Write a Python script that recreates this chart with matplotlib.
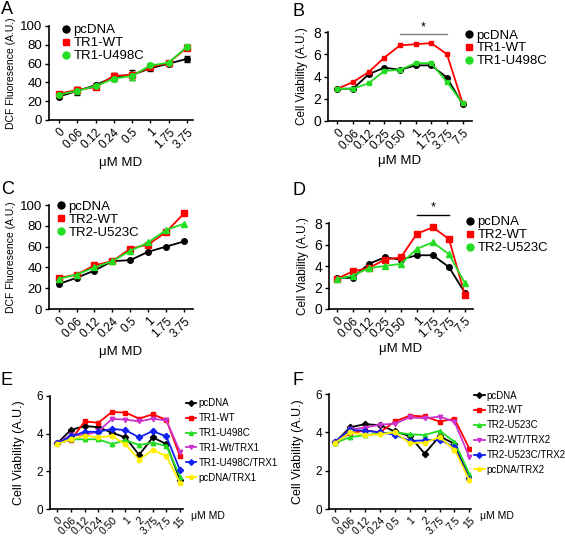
import matplotlib
matplotlib.use("Agg")
import matplotlib.pyplot as plt

plt.rcParams['font.family'] = ['Liberation Sans', 'DejaVu Sans']

# ---- datos ----
dosis_ac = ['0', '0.06', '0.12', '0.24', '0.5', '1', '1.75', '3.75']
dosis_bd = ['0', '0.06', '0.12', '0.25', '0.50', '1', '1.75', '3.75', '7.5']
dosis_e = ['0', '0.06', '0.12', '0.24', '0.50', '1', '2', '3.75', '7.5', '15']
dosis_f = ['0', '0.06', '0.12', '0.24', '0.5', '1', '2', '3.75', '7.5', '15']

a_pcdna = [25, 31, 37, 46, 48, 55, 60, 65]
a_wt = [28, 32, 35, 47, 48, 56, 61, 77]
a_mut = [27, 31, 36, 44, 47, 58, 61, 78]
a_err_pcdna = [2, 4, 2, 4, 5, 3, 3, 3]
a_err_wt = [2, 3, 2, 3, 3, 2, 2, 3]
a_err_mut = [2, 3, 2, 3, 4, 3, 2, 3]

b_pcdna = [2.9, 2.9, 4.2, 4.8, 4.6, 5.0, 5.0, 3.9, 1.5]
b_wt = [2.9, 3.5, 4.4, 5.7, 6.8, 6.9, 7.0, 6.0, 1.6]
b_mut = [2.9, 2.9, 3.4, 4.5, 4.6, 5.2, 5.2, 3.5, 1.6]

c_pcdna = [24, 30, 37, 46, 47, 55, 60, 65]
c_wt = [30, 33, 42, 46, 58, 62, 74, 92]
c_mut = [29, 33, 40, 46, 56, 64, 76, 82]

d_pcdna = [2.9, 2.9, 4.2, 4.8, 4.6, 5.0, 5.0, 3.9, 1.5]
d_wt = [2.8, 3.5, 3.8, 4.6, 4.8, 7.0, 7.6, 6.5, 1.3]
d_mut = [2.8, 3.1, 3.8, 4.0, 4.2, 5.6, 6.2, 5.1, 2.4]

e_series = {
    'pcDNA': [3.5, 4.2, 4.4, 4.35, 4.05, 3.8, 2.87, 3.8, 3.45, 1.55],
    'TR1-WT': [3.5, 3.66, 4.65, 4.58, 5.15, 5.12, 4.8, 5.03, 4.73, 2.8],
    'TR1-U498C': [3.5, 3.7, 3.7, 3.7, 3.45, 3.65, 3.4, 3.52, 3.35, 1.72],
    'TR1-Wt/TRX1': [3.5, 3.93, 3.93, 4.12, 4.78, 4.75, 4.65, 4.8, 4.7, 3.05],
    'TR1-U498C/TRX1': [3.5, 3.85, 4.1, 4.1, 4.25, 4.19, 3.8, 4.14, 3.85, 2.07],
    'pcDNA/TRX1': [3.45, 3.7, 3.9, 3.8, 3.88, 3.43, 2.62, 3.13, 2.81, 1.38],
}
f_series = {
    'pcDNA': [3.5, 4.26, 4.43, 4.37, 4.05, 3.8, 2.89, 3.8, 3.4, 1.6],
    'TR2-WT': [3.5, 3.95, 4.1, 4.0, 4.57, 4.87, 4.83, 4.56, 4.71, 3.15],
    'TR2-U523C': [3.45, 3.75, 3.85, 3.95, 4.0, 3.9, 3.86, 4.08, 3.51, 1.83],
    'TR2-WT/TRX2': [3.5, 4.15, 4.25, 4.4, 4.45, 4.78, 4.73, 4.82, 4.55, 2.71],
    'TR2-U523C/TRX2': [3.5, 4.12, 4.09, 4.0, 3.88, 3.55, 3.58, 3.62, 3.23, 1.55],
    'pcDNA/TRX2': [3.45, 4.0, 3.85, 3.9, 4.0, 3.44, 3.45, 3.75, 3.1, 1.5],
}

colores = ['black', 'red', '#22dd22', '#cc33cc', '#1122ee', '#ffee00']
marcadores = ['D', 's', '^', 'v', 'D', 'o']

W, H = 565, 537
fig = plt.figure(figsize=(W / 100, H / 100), dpi=100)


def ejes(izq, der, arriba, abajo):
    return fig.add_axes([izq / W, 1 - abajo / H, (der - izq) / W, (abajo - arriba) / H])


def estilo(ax, etiquetas, xlim, ylim, yticks, fx=8.5, fy=9.5):
    ax.spines['top'].set_visible(False)
    ax.spines['right'].set_visible(False)
    ax.set_xlim(*xlim)
    ax.set_ylim(*ylim)
    ax.set_yticks(yticks)
    ax.set_xticks(range(len(etiquetas)))
    ax.set_xticklabels(etiquetas, rotation=45, ha='right', rotation_mode='anchor', fontsize=fx)
    ax.tick_params(axis='y', labelsize=fy, length=3, width=1, pad=2)
    ax.tick_params(axis='x', length=2.5, width=1, pad=2)
    for s in ('left', 'bottom'):
        ax.spines[s].set_linewidth(1.2)


def leyenda_puntos(ax, etiquetas, marcas, x0, y0):
    handles = [plt.Line2D([], [], ls='', marker=mk, color=c, ms=5) for c, mk in zip(colores[:3], marcas)]
    ax.legend(handles, etiquetas, loc='upper left', bbox_to_anchor=(x0, y0), frameon=False,
              fontsize=9.5, handletextpad=0.1, handlelength=1, labelspacing=0.05, borderaxespad=0,
              borderpad=0)


# ---- A ----
axA = ejes(49, 193, 26, 120)
x = range(len(dosis_ac))
for y, e, c, m in [(a_pcdna, a_err_pcdna, colores[0], 'o'),
                   (a_wt, a_err_wt, colores[1], 's'),
                   (a_mut, a_err_mut, colores[2], 'o')]:
    axA.errorbar(x, y, yerr=e, color=c, marker=m, ms=4, lw=1.3, capsize=2, elinewidth=1.2)
estilo(axA, dosis_ac, (-0.55, 7.33), (0, 100), [0, 20, 40, 60, 80, 100])
axA.set_ylabel('DCF Fluoresence (A.U.)', fontsize=7.5, labelpad=3)
axA.set_xlabel('μM MD', fontsize=9.5, labelpad=4)
leyenda_puntos(axA, ['pcDNA', 'TR1-WT', 'TR1-U498C'], ['o', 's', 'o'], 0.07, 1.02)

# ---- B ----
axB = ejes(328, 472, 32, 121)
x = range(len(dosis_bd))
axB.plot(x, b_pcdna, color=colores[0], marker='o', ms=4, lw=1.3)
axB.plot(x, b_wt, color=colores[1], marker='s', ms=3.5, lw=1.3)
axB.plot(x, b_mut, color=colores[2], marker='s', ms=3.5, lw=1.3)
estilo(axB, dosis_bd, (-0.6, 8.6), (0, 8), [0, 2, 4, 6, 8], fy=10)
axB.set_ylabel('Cell Viability (A.U.)', fontsize=8.5, labelpad=4)
axB.set_xlabel('μM MD', fontsize=9.5, labelpad=2)
axB.plot([4, 7], [7.8, 7.8], color='gray', lw=1, clip_on=False)
axB.text(5.5, 7.9, '*', ha='center', va='bottom', fontsize=9, clip_on=False)
leyenda_puntos(axB, ['pcDNA', 'TR1-WT', 'TR1-U498C'], ['o', 's', 'o'], 0.93, 1.03)

# ---- C ----
axC = ejes(49, 193, 205, 309)
x = range(len(dosis_ac))
axC.plot(x, c_pcdna, color=colores[0], marker='o', ms=4, lw=1.3)
axC.plot(x, c_wt, color=colores[1], marker='s', ms=4, lw=1.3)
axC.plot(x, c_mut, color=colores[2], marker='^', ms=4, lw=1.3)
estilo(axC, dosis_ac, (-0.54, 7.5), (0, 100), [0, 20, 40, 60, 80, 100])
axC.set_ylabel('DCF Fluoresence (A.U.)', fontsize=7.5, labelpad=3)
axC.set_xlabel('μM MD', fontsize=9.5, labelpad=4)
leyenda_puntos(axC, ['pcDNA', 'TR2-WT', 'TR2-U523C'], ['o', 's', 'o'], 0.035, 1.04)

# ---- D ----
axD = ejes(329, 473, 223, 309)
x = range(len(dosis_bd))
axD.plot(x, d_pcdna, color=colores[0], marker='o', ms=4, lw=1.3)
axD.plot(x, d_wt, color=colores[1], marker='s', ms=4, lw=1.3)
axD.plot(x, d_mut, color=colores[2], marker='^', ms=4, lw=1.3)
estilo(axD, dosis_bd, (-0.48, 8.5), (0, 8), [0, 2, 4, 6, 8], fy=10)
axD.set_ylabel('Cell Viability (A.U.)', fontsize=8.5, labelpad=4)
axD.set_xlabel('μM MD', fontsize=9.5, labelpad=2)
axD.plot([5, 7], [8.74, 8.74], color='black', lw=1, clip_on=False)
axD.text(6, 8.85, '*', ha='center', va='bottom', fontsize=9, clip_on=False)
leyenda_puntos(axD, ['pcDNA', 'TR2-WT', 'TR2-U523C'], ['o', 's', 'o'], 0.93, 1.08)


# ---- E y F ----
def panel_trx(ax, etiquetas, series, xlim, y0):
    x = range(len(etiquetas))
    for (lab, y), c, mk in zip(series.items(), colores, marcadores):
        ax.plot(x, y, color=c, marker=mk, ms=3.2, lw=1.3, label=lab)
    estilo(ax, etiquetas, xlim, (0, 6), [0, 2, 4, 6], fx=7.5, fy=8.5)
    ax.set_ylabel('Cell Viability (A.U.)', fontsize=9, labelpad=8)
    ax.legend(loc='upper left', bbox_to_anchor=(1.02, y0), frameon=False, fontsize=7,
              handletextpad=0.2, handlelength=1.1, labelspacing=0.5, borderaxespad=0,
              borderpad=0, markerscale=0.9)
    ax.text(1.06, -0.02, 'μM MD', transform=ax.transAxes, fontsize=7.5, ha='left', va='top')


axE = ejes(50, 183, 396, 509)
panel_trx(axE, dosis_e, e_series, (-0.54, 9.22), 0.98)
axF = ejes(329, 471, 394, 509)
panel_trx(axF, dosis_f, f_series, (-0.42, 9.11), 1.03)

# etiquetas de panel
for letra, px, py in [('A', 1, 1), ('B', 293, 3), ('C', 1, 181), ('D', 293, 182), ('E', 1, 372), ('F', 293, 372)]:
    fig.text(px / W, 1 - py / H, letra, fontsize=13, ha='left', va='top')

fig.savefig('out.png', dpi=100)
